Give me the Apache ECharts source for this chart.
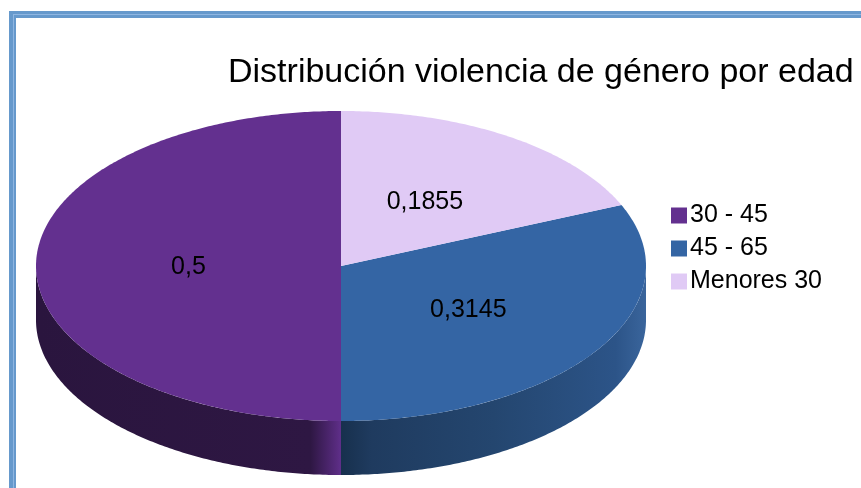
<!DOCTYPE html>
<html>
<head>
<meta charset="utf-8">
<style>
  html, body { margin: 0; padding: 0; background: #fff; }
  #main { width: 861px; height: 488px; }
</style>
<script src="https://cdn.jsdelivr.net/npm/echarts@6/dist/echarts.min.js"></script>
</head>
<body>
<div id="main"></div>
<script>
const titulo = 'Distribución violencia de género por edad'
const categorias = ['30 - 45', '45 - 65', 'Menores 30']
const valores = [0.5, 0.3145, 0.1855]
const colores = ['#63308f', '#3465a4', '#e0caf5']

// geometria de la tarta (elipse + grosor)
const cx = 341
const cy = 266
const rx = 305
const ry = 155
const grosor = 54

// degradados del canto, de izquierda a derecha
const cantos = [
  [[0, '#2a153e'], [0.9, '#2e1743'], [0.99, '#5a2c82'], [1, '#5f2f8a']],
  [[0, '#17304d'], [0.1, '#1f3b5f'], [0.5, '#24466f'], [0.9, '#2c5488'], [1, '#3a659c']],
  [[0, '#9a85ad'], [1, '#9a85ad']]
]

function punto(t, dy) {
  return [cx + rx * Math.sin(t), cy - ry * Math.cos(t) + (dy || 0)]
}

function arco(t0, t1, dy) {
  const pts = []
  const n = Math.max(2, Math.ceil((t1 - t0) / 0.01))
  for (let i = 0; i <= n; i++) {
    pts.push(punto(t0 + (t1 - t0) * i / n, dy))
  }
  return pts
}

function dibujar(idx) {
  return function () {
    // las porciones van en sentido horario desde arriba, empezando por la ultima
    let acum = 0
    for (let i = valores.length - 1; i > idx; i--) {
      acum += valores[i]
    }
    const t0 = acum * 2 * Math.PI
    const t1 = (acum + valores[idx]) * 2 * Math.PI
    const hijos = []

    // canto visible: solo la mitad delantera de la elipse
    const a = Math.max(t0, Math.PI / 2)
    const b = Math.min(t1, Math.PI * 3 / 2)
    if (b > a) {
      const arriba = arco(a, b, 0)
      const abajo = arco(a, b, grosor).reverse()
      hijos.push({
        type: 'polygon',
        shape: { points: arriba.concat(abajo) },
        style: {
          fill: {
            type: 'linear', x: 0, y: 0, x2: 1, y2: 0,
            colorStops: cantos[idx].map(function (s) { return { offset: s[0], color: s[1] } })
          }
        }
      })
    }

    // cara superior
    hijos.push({
      type: 'polygon',
      shape: { points: [[cx, cy]].concat(arco(t0, t1, 0)) },
      style: { fill: colores[idx] }
    })

    // etiqueta con coma decimal, a media distancia del centro
    const m = (t0 + t1) / 2
    hijos.push({
      type: 'text',
      style: {
        x: cx + rx * 0.5 * Math.sin(m),
        y: cy - ry * 0.5 * Math.cos(m) + 1,
        text: String(valores[idx]).replace('.', ','),
        fontFamily: 'Liberation Sans',
        fontSize: 25,
        fill: '#000',
        align: 'center',
        verticalAlign: 'middle'
      }
    })
    return { type: 'group', children: hijos }
  }
}

const myChart = echarts.init(document.getElementById('main'))
myChart.setOption({
  animation: false,
  backgroundColor: '#fff',
  title: {
    text: titulo,
    left: 228,
    top: 56,
    padding: 0,
    textStyle: {
      fontFamily: 'Liberation Sans',
      fontSize: 34,
      fontWeight: 'normal',
      color: '#000'
    }
  },
  legend: {
    left: 671,
    top: 203,
    padding: 0,
    orient: 'vertical',
    align: 'left',
    itemWidth: 16,
    itemHeight: 16,
    itemGap: 8,
    itemStyle: { borderWidth: 0 },
    selectedMode: false,
    data: categorias.map(function (c, i) {
      return { name: c, icon: 'rect', itemStyle: { color: colores[i] } }
    }),
    textStyle: {
      fontFamily: 'Liberation Sans',
      fontSize: 25,
      color: '#000',
      padding: [0, 0, 0, -2]
    }
  },
  // marco azul de la imagen original
  graphic: [
    { type: 'rect', shape: { x: 9, y: 11, width: 852, height: 7 }, style: { fill: '#6699cc' } },
    { type: 'rect', shape: { x: 9, y: 11, width: 7, height: 477 }, style: { fill: '#6699cc' } },
    { type: 'rect', shape: { x: 13, y: 14, width: 848, height: 1 }, style: { fill: '#8fb6e2' } },
    { type: 'rect', shape: { x: 13, y: 14, width: 1, height: 474 }, style: { fill: '#8fb6e2' } }
  ],
  series: categorias.map(function (c, i) {
    return {
      name: c,
      type: 'custom',
      coordinateSystem: 'none',
      renderItem: dibujar(i),
      itemStyle: { color: colores[i] },
      silent: true,
      data: [valores[i]]
    }
  })
})
</script>
</body>
</html>
